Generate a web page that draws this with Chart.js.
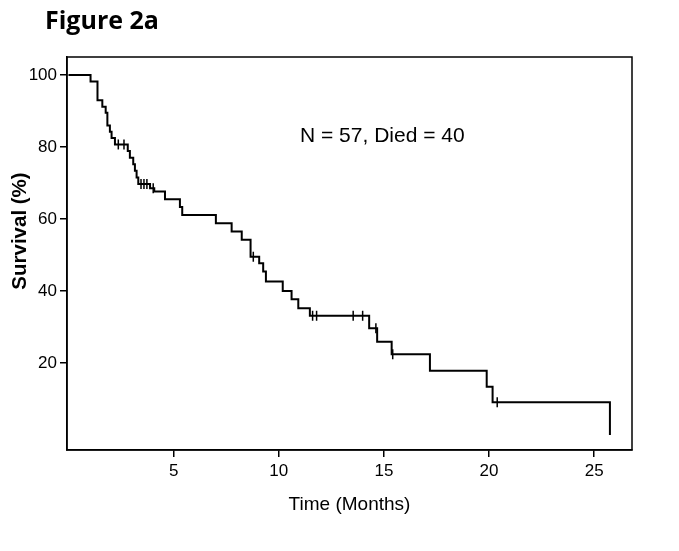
<!DOCTYPE html>
<html>
<head>
<meta charset="utf-8">
<script src="https://cdn.jsdelivr.net/npm/chart.js@4/dist/chart.umd.min.js"></script>
<style>
  html, body { margin: 0; padding: 0; background: #ffffff; }
  #wrap { position: relative; width: 679px; height: 551px; }
</style>
</head>
<body>
<div id="wrap"><canvas id="c" width="679" height="551"></canvas></div>
<script>
// Kaplan-Meier step curve: time of each step (months) and survival (%) after the step
const kmTime = [0, 1.05, 1.38, 1.61, 1.77, 1.85, 1.97, 2.05, 2.21, 2.82, 2.92, 3.08, 3.16, 3.24, 3.32, 3.88, 4.08, 4.59, 5.30, 5.41, 7.01, 7.76, 8.24, 8.66, 9.07, 9.26, 9.39, 10.19, 10.61, 10.93, 11.48, 14.30, 14.68, 15.37, 17.19, 19.89, 20.17, 25.75];
const kmSurv = [100, 98.2, 93.0, 91.2, 89.5, 86.0, 84.2, 82.5, 80.7, 78.9, 77.0, 75.2, 73.4, 71.5, 69.7, 68.5, 67.6, 65.5, 63.3, 61.1, 58.8, 56.5, 54.2, 49.5, 47.7, 45.4, 42.6, 40.0, 37.7, 35.2, 33.1, 29.6, 25.9, 22.4, 17.8, 13.4, 9.1, 0];
// Censored observations
const censorTime = [2.37, 2.64, 3.45, 3.59, 3.73, 4.03, 8.79, 11.61, 11.80, 13.54, 13.99, 14.62, 15.42, 20.39];
const censorSurv = [80.7, 80.7, 69.7, 69.7, 69.7, 68.5, 49.5, 33.1, 33.1, 33.1, 33.1, 29.6, 22.4, 9.1];
// Tick labels
const xTicks = [5, 10, 15, 20, 25];
const yTicks = [20, 40, 60, 80, 100];
// Texts
const figureTitle = "Figure 2a";
const annotation = "N = 57, Died = 40";
const xTitle = "Time (Months)";
const yTitle = "Survival (%)";

const kmPoints = kmTime.map((t, i) => ({ x: t, y: kmSurv[i] }));
const censorPoints = censorTime.map((t, i) => ({ x: t, y: censorSurv[i] }));

const extraText = {
  id: 'extraText',
  afterDraw(chart) {
    const ctx = chart.ctx;
    const a = chart.chartArea;
    ctx.save();
    // plot box
    ctx.strokeStyle = '#000';
    ctx.lineWidth = 1.5;
    ctx.strokeRect(a.left, a.top, a.right - a.left, a.bottom - a.top);
    ctx.fillStyle = '#000';
    // figure title
    ctx.font = 'bold 25px "Open Sans", "Noto Sans", sans-serif';
    ctx.textAlign = 'left';
    ctx.textBaseline = 'alphabetic';
    ctx.fillText(figureTitle, 45, 29);
    // annotation
    ctx.font = '21px "Liberation Sans", Arial, sans-serif';
    ctx.textAlign = 'left';
    ctx.textBaseline = 'middle';
    ctx.fillText(annotation, 300, 136);
    // x title
    ctx.textAlign = 'center';
    ctx.font = '19px "Liberation Sans", Arial, sans-serif';
    ctx.fillText(xTitle, (a.left + a.right) / 2, 505);
    // y title
    ctx.translate(20, 231);
    ctx.rotate(-Math.PI / 2);
    ctx.font = 'bold 20.5px "Liberation Sans", Arial, sans-serif';
    ctx.fillText(yTitle, 0, 0);
    ctx.restore();
  }
};

new Chart(document.getElementById('c'), {
  type: 'scatter',
  data: {
    datasets: [
      {
        data: kmPoints,
        showLine: true,
        stepped: true,
        borderColor: '#000',
        borderWidth: 2,
        pointRadius: 0,
        fill: false
      },
      {
        data: censorPoints,
        showLine: false,
        pointStyle: 'line',
        rotation: 90,
        pointRadius: 5,
        borderColor: '#000',
        borderWidth: 1.5,
        backgroundColor: '#000'
      }
    ]
  },
  options: {
    responsive: false,
    animation: false,
    devicePixelRatio: 1,
    layout: { padding: { top: 57, right: 47, left: 0, bottom: 0 } },
    plugins: { legend: { display: false }, tooltip: { enabled: false } },
    scales: {
      x: {
        type: 'linear',
        min: -0.07,
        max: 26.8,
        afterFit: (s) => { s.height = 101; },
        afterBuildTicks: (s) => { s.ticks = xTicks.map(v => ({ value: v })); },
        grid: { drawOnChartArea: false, drawTicks: true, tickLength: 7, color: '#000', lineWidth: 1.5 },
        border: { display: true, color: '#000', width: 1.5 },
        ticks: { color: '#000', padding: 4, font: { family: '"Liberation Sans", Arial, sans-serif', size: 17 } }
      },
      y: {
        type: 'linear',
        min: -4.2,
        max: 105,
        afterFit: (s) => { s.width = 67; },
        afterBuildTicks: (s) => { s.ticks = yTicks.map(v => ({ value: v })); },
        grid: { drawOnChartArea: false, drawTicks: true, tickLength: 7, color: '#000', lineWidth: 1.5 },
        border: { display: true, color: '#000', width: 1.5 },
        ticks: { color: '#000', padding: 3, font: { family: '"Liberation Sans", Arial, sans-serif', size: 17 } }
      }
    }
  },
  plugins: [extraText]
});
</script>
</body>
</html>
